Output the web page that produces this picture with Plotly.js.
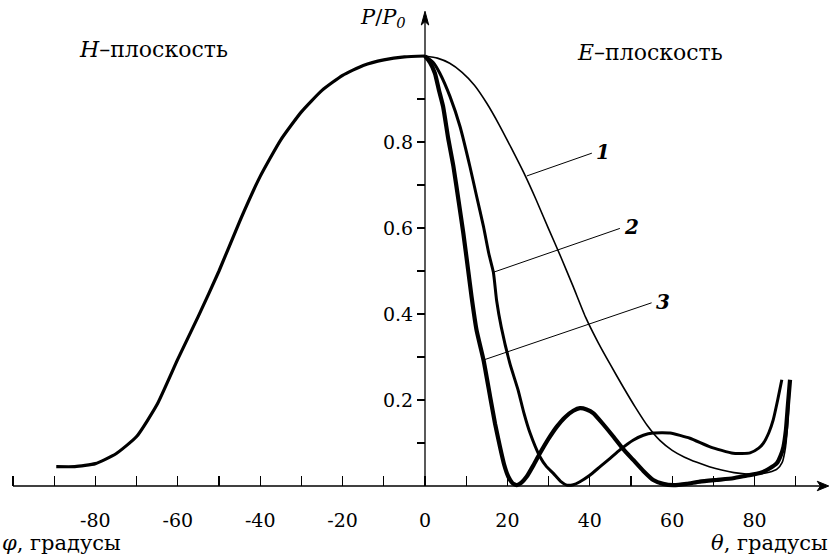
<!DOCTYPE html>
<html>
<head>
<meta charset="utf-8">
<script src="https://cdn.plot.ly/plotly-3.0.1.min.js"></script>
<style>html,body{margin:0;padding:0;background:#fff;}#chart{width:830px;height:556px;}</style>
</head>
<body>
<div id="chart"></div>
<script>
// H-plane (phi, degrees) and relative power
const phiH = [-89.5, -85, -80, -75, -70, -65, -60, -55, -50, -45, -40, -35, -30, -25, -20, -15, -10, -5, 0];
const powH = [0.045, 0.045, 0.052, 0.075, 0.115, 0.19, 0.295, 0.395, 0.50, 0.615, 0.72, 0.805, 0.87, 0.92, 0.955, 0.978, 0.991, 0.998, 1.0];

// E-plane curve 1
const theta1 = [0, 3, 6, 9, 12, 15, 18, 21, 24, 27, 30, 33, 36, 39, 42, 45, 48, 51, 54, 57, 60, 63, 66, 69, 72, 75, 78, 81, 83.5, 85.5, 86.7, 87.5, 88, 88.4, 88.6];
const pow1 = [1.0, 0.995, 0.983, 0.962, 0.932, 0.89, 0.84, 0.785, 0.728, 0.665, 0.598, 0.532, 0.463, 0.392, 0.334, 0.282, 0.232, 0.184, 0.140, 0.106, 0.083, 0.067, 0.055, 0.045, 0.037, 0.031, 0.028, 0.028, 0.032, 0.04, 0.055, 0.09, 0.14, 0.2, 0.245];

// E-plane curve 2
const theta2 = [0, 2, 3.6, 6.1, 8.5, 10.9, 12.5, 14.2, 15.5, 16.6, 17.4, 18.5, 20.6, 22.6, 24, 25.5, 27.9, 29.5, 31.1, 33, 34.4, 36, 37.6, 40, 42.5, 45, 47.3, 50.6, 53, 55.4, 59.5, 64.3, 69.2, 74.8, 78.9, 81, 82.1, 83.5, 84.5, 85.6, 86.6];
const pow2 = [1.0, 0.985, 0.96, 0.905, 0.836, 0.743, 0.675, 0.603, 0.54, 0.497, 0.43, 0.37, 0.285, 0.223, 0.17, 0.123, 0.068, 0.045, 0.030, 0.01, 0.002, 0.003, 0.010, 0.025, 0.045, 0.065, 0.084, 0.107, 0.118, 0.123, 0.123, 0.111, 0.091, 0.076, 0.077, 0.088, 0.099, 0.125, 0.153, 0.2, 0.247];

// E-plane curve 3
const theta3 = [0, 1.2, 2.4, 3.4, 4.4, 5.6, 6.9, 8.2, 9.3, 10.5, 11.3, 12.5, 14.2, 15.8, 17, 18.2, 19.2, 20.2, 21.2, 22.3, 23.4, 24.7, 26.3, 27.9, 30, 32, 34, 36, 37.6, 39.2, 40.9, 43.3, 45.7, 48, 50.6, 53, 55.4, 57.8, 60.3, 63.5, 66.7, 70.7, 74.8, 78, 81.3, 83.5, 85.4, 86.3, 87, 87.6, 88.1, 88.6];
const pow3 = [1.0, 0.985, 0.96, 0.92, 0.882, 0.81, 0.743, 0.66, 0.588, 0.5, 0.44, 0.363, 0.293, 0.208, 0.145, 0.091, 0.05, 0.022, 0.007, 0.002, 0.008, 0.022, 0.048, 0.076, 0.11, 0.138, 0.16, 0.175, 0.181, 0.178, 0.169, 0.143, 0.115, 0.087, 0.060, 0.035, 0.014, 0.005, 0.002, 0.005, 0.010, 0.014, 0.018, 0.024, 0.030, 0.04, 0.053, 0.07, 0.091, 0.13, 0.19, 0.247];

// ticks
const xTickVals = [-100, -90, -80, -70, -60, -50, -40, -30, -20, -10, 0, 10, 20, 30, 40, 50, 60, 70, 80, 90];
const xTickText = ['', '', '-80', '', '-60', '', '-40', '', '-20', '', '0', '', '20', '', '40', '', '60', '', '80', ''];
const yTickVals = [0.1, 0.2, 0.3, 0.4, 0.5, 0.6, 0.7, 0.8, 0.9];
const yTickText = ['', '0.2', '', '0.4', '', '0.6', '', '0.8', ''];

const FONT = 'DejaVu Serif';
const X_RANGE = [-103.155, 98.30];
const Y_RANGE = [-0.1628, 1.1302];

const line = (x, y, w) => ({
  x: x, y: y, type: 'scatter', mode: 'lines',
  line: {color: '#000', width: w, shape: 'spline', smoothing: 0.5},
  hoverinfo: 'skip', showlegend: false
});

const traces = [
  line(phiH, powH, 3.2),
  line(theta1, pow1, 1.6),
  line(theta2, pow2, 3.0),
  line(theta3, pow3, 4.2)
];

const layout = {
  width: 830, height: 556,
  margin: {l: 0, r: 0, t: 0, b: 0},
  paper_bgcolor: '#fff', plot_bgcolor: '#fff',
  showlegend: false,
  font: {family: FONT, color: '#000', size: 19},
  xaxis: {
    range: X_RANGE, anchor: 'free',
    position: (0 - Y_RANGE[0]) / (Y_RANGE[1] - Y_RANGE[0]),
    showgrid: false, zeroline: false, showline: false,
    tickmode: 'array', tickvals: xTickVals, ticktext: xTickText,
    ticks: 'inside', ticklen: 10, tickwidth: 1.2, tickcolor: '#000',
    ticklabelstandoff: 21,
    tickfont: {family: FONT, size: 19, color: '#000'},
    automargin: false, fixedrange: true
  },
  yaxis: {
    range: Y_RANGE, anchor: 'free',
    position: (0 - X_RANGE[0]) / (X_RANGE[1] - X_RANGE[0]),
    showgrid: false, zeroline: false, showline: false,
    tickmode: 'array', tickvals: yTickVals, ticktext: yTickText,
    ticks: 'outside', ticklen: 8, tickwidth: 1.2, tickcolor: '#000',
    tickfont: {family: FONT, size: 19, color: '#000'},
    automargin: false, fixedrange: true
  },
  shapes: [
    {type: 'line', xref: 'x', yref: 'y', x0: -100, x1: 97, y0: 0, y1: 0, line: {color: '#000', width: 1.3}},
    {type: 'line', xref: 'x', yref: 'y', x0: 0, x1: 0, y0: 0, y1: 1.09, line: {color: '#000', width: 1.3}},
    {type: 'path', xref: 'x', yref: 'y', path: 'M 98,0 L 95.2,0.011 L 96,0 L 95.2,-0.011 Z', fillcolor: '#000', line: {color: '#000', width: 1}},
    {type: 'path', xref: 'x', yref: 'y', path: 'M 0,1.104 L -0.9,1.072 L 0,1.08 L 0.9,1.072 Z', fillcolor: '#000', line: {color: '#000', width: 1}},
    {type: 'line', xref: 'x', yref: 'y', x0: 24.7, y0: 0.721, x1: 40.5, y1: 0.774, line: {color: '#000', width: 1}},
    {type: 'line', xref: 'x', yref: 'y', x0: 16.6, y0: 0.497, x1: 47.3, y1: 0.599, line: {color: '#000', width: 1}},
    {type: 'line', xref: 'x', yref: 'y', x0: 14.2, y0: 0.293, x1: 55.0, y1: 0.426, line: {color: '#000', width: 1}}
  ],
  annotations: [
    {x: -66.0, y: 1.016, xref: 'x', yref: 'y', showarrow: false, text: '<i>H</i>–плоскость', font: {family: FONT, size: 22, color: '#000'}},
    {x: 54.6, y: 1.009, xref: 'x', yref: 'y', showarrow: false, text: '<i>E</i>–плоскость', font: {family: FONT, size: 22, color: '#000'}},
    {x: -10.3, y: 1.088, xref: 'x', yref: 'y', showarrow: false, text: '<i>P</i>/<i>P</i><sub><i>0</i></sub>', font: {family: FONT, size: 21, color: '#000'}},
    {x: 0, y: -0.1326, xref: 'paper', yref: 'y', xanchor: 'left', showarrow: false, text: '<i>φ</i>, градусы', font: {family: FONT, size: 21, color: '#000'}},
    {x: 1, y: -0.1326, xref: 'paper', yref: 'y', xanchor: 'right', showarrow: false, text: '<i>θ</i>, градусы', font: {family: FONT, size: 21, color: '#000'}},
    {x: 41.0, y: 0.776, xref: 'x', yref: 'y', xanchor: 'left', showarrow: false, text: '<b><i>1</i></b>', font: {family: FONT, size: 20, color: '#000'}},
    {x: 47.8, y: 0.602, xref: 'x', yref: 'y', xanchor: 'left', showarrow: false, text: '<b><i>2</i></b>', font: {family: FONT, size: 20, color: '#000'}},
    {x: 55.5, y: 0.428, xref: 'x', yref: 'y', xanchor: 'left', showarrow: false, text: '<b><i>3</i></b>', font: {family: FONT, size: 20, color: '#000'}}
  ]
};

Plotly.newPlot('chart', traces, layout, {staticPlot: true, displayModeBar: false});
</script>
</body>
</html>
